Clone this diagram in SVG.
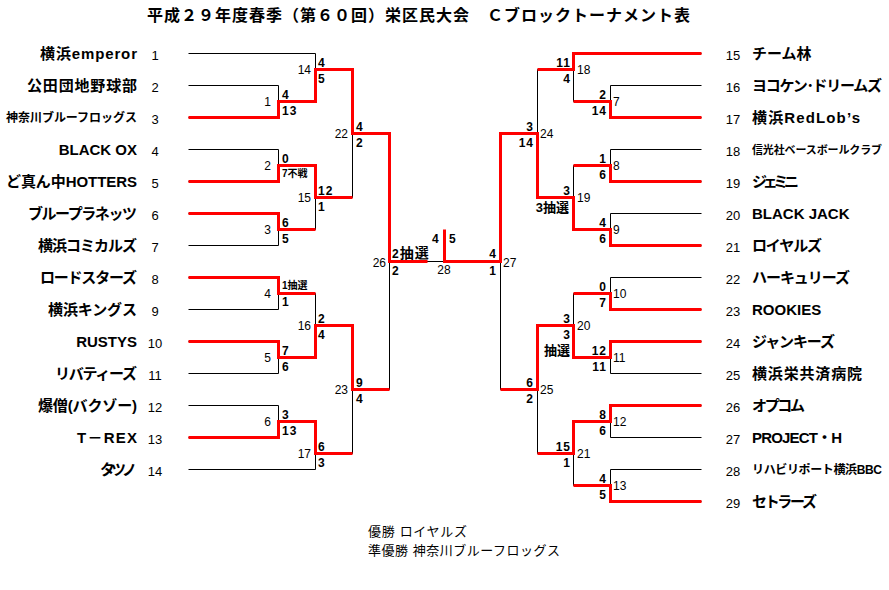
<svg xmlns="http://www.w3.org/2000/svg" width="889" height="590" viewBox="0 0 889 590">
<style>
text{font-family:"Liberation Sans","Noto Sans CJK JP",sans-serif;fill:#000}
.ttl{font-size:16px;font-weight:bold}
.nm{font-size:15px;font-weight:bold}
.nms{font-size:12px;font-weight:bold}
.nmx{font-size:11px;font-weight:bold}
.tn{font-size:13px;text-anchor:middle}
.mn{font-size:12px}
.sc{font-size:12px;font-weight:bold;letter-spacing:1px}
.sm{font-size:10px;font-weight:bold}
.lt{font-size:13px;font-weight:bold}
.L{text-anchor:end}
.R{text-anchor:end}
.ft{font-size:13px}
.blk{fill:none;stroke:#000;stroke-width:1}
.red{fill:none;stroke:#ff0000;stroke-width:3;stroke-linejoin:miter}
</style>
<rect width="889" height="590" fill="#fff"/>
<text class="ttl" x="147" y="21" textLength="543">平成２９年度春季（第６０回）栄区民大会　Ｃブロックトーナメント表</text>

<g id="connectors" transform="translate(0.5,0.5)">
<path class="blk" d="M188 53H315 M188 85H278 M188 117H278 M188 149H278 M188 181H278 M188 213H278 M188 245H278 M188 277H278 M188 309H278 M188 341H278 M188 373H278 M188 405H278 M188 437H278 M188 469H315
M278 85V117 M278 149V181 M278 213V245 M278 277V309 M278 341V373 M278 405V437
M278 101H315 M278 165H315 M278 229H315 M278 293H315 M278 357H315 M278 421H315
M315 53V101 M315 165V229 M315 293V357 M315 421V469
M315 69H352 M315 197H352 M315 325H352 M315 453H352
M352 69V197 M352 325V453 M352 133H389 M352 389H389 M389 133V389 M389 261H500
M701 53H573 M701 85H610 M701 117H610 M701 149H610 M701 181H610 M701 213H610 M701 245H610 M701 277H610 M701 309H610 M701 341H610 M701 373H610 M701 405H610 M701 437H610 M701 469H610 M701 501H610
M610 85V117 M610 149V181 M610 213V245 M610 277V309 M610 341V373 M610 405V437 M610 469V501
M610 101H573 M610 165H573 M610 229H573 M610 293H573 M610 357H573 M610 421H573 M610 485H573
M573 53V101 M573 165V229 M573 293V357 M573 421V485
M573 69H537 M573 197H537 M573 325H537 M573 453H537
M537 69V197 M537 325V453 M537 133H500 M537 389H500 M500 133V389"/>
<polyline class="red" points="188,117 278,117 278,101 315,101 315,69 352,69 352,133 389,133 389,261 427,261"/>
<polyline class="red" points="188,181 278,181 278,165 315,165 315,197 352,197"/>
<polyline class="red" points="188,213 278,213 278,229 315,229"/>
<polyline class="red" points="188,277 278,277 278,293 315,293"/>
<polyline class="red" points="188,341 278,341 278,357 315,357 315,325 352,325 352,389 389,389"/>
<polyline class="red" points="188,437 278,437 278,421 315,421 315,453 352,453"/>
<polyline class="red" points="701,53 573,53 573,69 537,69"/>
<polyline class="red" points="701,117 610,117 610,101 573,101"/>
<polyline class="red" points="701,181 610,181 610,165 573,165"/>
<polyline class="red" points="701,245 610,245 610,229 573,229 573,197 537,197 537,133 500,133 500,261 444,261 444,229"/>
<polyline class="red" points="701,309 610,309 610,293 573,293"/>
<polyline class="red" points="701,341 610,341 610,357 573,357 573,325 537,325 537,389 500,389"/>
<polyline class="red" points="701,405 610,405 610,421 573,421 573,453 537,453"/>
<polyline class="red" points="701,501 610,501 610,485 573,485"/>
</g>

<g id="team1"><text class="nm L" x="137" y="59" textLength="97">横浜emperor</text><text class="tn" x="155" y="60">1</text></g>
<g id="team2"><text class="nm L" x="137" y="91" textLength="110">公田団地野球部</text><text class="tn" x="155" y="92">2</text></g>
<g id="team3"><text class="nms L" x="137" y="122" textLength="131">神奈川ブルーフロッグス</text><text class="tn" x="155" y="124">3</text></g>
<g id="team4"><text class="nm L" x="137" y="155">BLACK OX</text><text class="tn" x="155" y="156">4</text></g>
<g id="team5"><text class="nm L" x="137" y="187" textLength="131">ど真ん中HOTTERS</text><text class="tn" x="155" y="188">5</text></g>
<g id="team6"><text class="nm L" x="137" y="219" textLength="109">ブループラネッツ</text><text class="tn" x="155" y="220">6</text></g>
<g id="team7"><text class="nm L" x="137" y="251" textLength="99">横浜コミカルズ</text><text class="tn" x="155" y="252">7</text></g>
<g id="team8"><text class="nm L" x="137" y="283" textLength="97">ロードスターズ</text><text class="tn" x="155" y="284">8</text></g>
<g id="team9"><text class="nm L" x="137" y="315" textLength="89">横浜キングス</text><text class="tn" x="155" y="316">9</text></g>
<g id="team10"><text class="nm L" x="137" y="347">RUSTYS</text><text class="tn" x="155" y="348">10</text></g>
<g id="team11"><text class="nm L" x="137" y="379" textLength="82">リバティーズ</text><text class="tn" x="155" y="380">11</text></g>
<g id="team12"><text class="nm L" x="137" y="411" textLength="99">爆僧(バクゾー)</text><text class="tn" x="155" y="412">12</text></g>
<g id="team13"><text class="nm L" x="137" y="443" textLength="60">T－REX</text><text class="tn" x="155" y="444">13</text></g>
<g id="team14"><text class="nm L" x="137" y="475" textLength="37">タツノ</text><text class="tn" x="155" y="476">14</text></g>

<g id="team15"><text class="tn" x="733" y="60">15</text><text class="nm" x="752" y="59">チーム林</text></g>
<g id="team16"><text class="tn" x="733" y="92">16</text><text class="nm" x="752" y="91" textLength="130">ヨコケン･ドリームズ</text></g>
<g id="team17"><text class="tn" x="733" y="124">17</text><text class="nm" x="752" y="123" textLength="108">横浜RedLob’s</text></g>
<g id="team18"><text class="tn" x="733" y="156">18</text><text class="nmx" x="752" y="154" textLength="130">信光社ベースボールクラブ</text></g>
<g id="team19"><text class="tn" x="733" y="188">19</text><text class="nm" x="752" y="187" textLength="47">ジェミニ</text></g>
<g id="team20"><text class="tn" x="733" y="220">20</text><text class="nm" x="752" y="219">BLACK JACK</text></g>
<g id="team21"><text class="tn" x="733" y="252">21</text><text class="nm" x="752" y="251" textLength="70">ロイヤルズ</text></g>
<g id="team22"><text class="tn" x="733" y="284">22</text><text class="nm" x="752" y="283" textLength="98">ハーキュリーズ</text></g>
<g id="team23"><text class="tn" x="733" y="316">23</text><text class="nm" x="752" y="315">ROOKIES</text></g>
<g id="team24"><text class="tn" x="733" y="348">24</text><text class="nm" x="752" y="347" textLength="83">ジャンキーズ</text></g>
<g id="team25"><text class="tn" x="733" y="380">25</text><text class="nm" x="752" y="379" textLength="110">横浜栄共済病院</text></g>
<g id="team26"><text class="tn" x="733" y="412">26</text><text class="nm" x="752" y="411" textLength="53">オプコム</text></g>
<g id="team27"><text class="tn" x="733" y="444">27</text><text class="nm" x="752" y="443" textLength="90">PROJECT・H</text></g>
<g id="team28"><text class="tn" x="733" y="476">28</text><text class="nms" x="752" y="474" textLength="130">リハビリポート横浜BBC</text></g>
<g id="team29"><text class="tn" x="733" y="508">29</text><text class="nm" x="752" y="507" textLength="65">セトラーズ</text></g>

<g id="m1"><text class="mn L" x="271" y="106">1</text><text class="sc" x="282" y="99">4</text><text class="sc" x="282" y="115">13</text></g>
<g id="m2"><text class="mn L" x="271" y="170">2</text><text class="sc" x="282" y="163">0</text><text class="sm" x="282" y="177">7不戦</text></g>
<g id="m3"><text class="mn L" x="271" y="234">3</text><text class="sc" x="282" y="227">6</text><text class="sc" x="282" y="243">5</text></g>
<g id="m4"><text class="mn L" x="271" y="298">4</text><text class="sm" x="282" y="289">1抽選</text><text class="sc" x="282" y="306">1</text></g>
<g id="m5"><text class="mn L" x="271" y="362">5</text><text class="sc" x="282" y="355">7</text><text class="sc" x="282" y="371">6</text></g>
<g id="m6"><text class="mn L" x="271" y="426">6</text><text class="sc" x="282" y="419">3</text><text class="sc" x="282" y="435">13</text></g>
<g id="m14"><text class="mn L" x="311" y="74">14</text><text class="sc" x="318" y="67">4</text><text class="sc" x="318" y="83">5</text></g>
<g id="m15"><text class="mn L" x="311" y="202">15</text><text class="sc" x="318" y="195">12</text><text class="sc" x="318" y="211">1</text></g>
<g id="m16"><text class="mn L" x="311" y="330">16</text><text class="sc" x="318" y="323">2</text><text class="sc" x="318" y="339">4</text></g>
<g id="m17"><text class="mn L" x="311" y="458">17</text><text class="sc" x="318" y="451">6</text><text class="sc" x="318" y="467">3</text></g>
<g id="m22"><text class="mn L" x="348" y="138">22</text><text class="sc" x="356" y="131">4</text><text class="sc" x="356" y="147">2</text></g>
<g id="m23"><text class="mn L" x="348" y="394">23</text><text class="sc" x="356" y="387">9</text><text class="sc" x="356" y="403">4</text></g>
<g id="m26"><text class="mn L" x="386" y="267">26</text><text class="sc" x="392" y="258">2<tspan class="lt" style="font-size:14px">抽選</tspan></text><text class="sc" x="392" y="275">2</text></g>
<g id="m28"><text class="sc" x="432" y="243">4</text><text class="sc" x="449" y="243">5</text><text class="mn" x="444" y="274" text-anchor="middle">28</text></g>
<g id="m27"><text class="mn" x="503" y="267">27</text><text class="sc R" x="497" y="258">4</text><text class="sc R" x="497" y="275">1</text></g>

<g id="m7"><text class="mn" x="613" y="106">7</text><text class="sc R" x="607" y="99">2</text><text class="sc R" x="607" y="115">14</text></g>
<g id="m8"><text class="mn" x="613" y="170">8</text><text class="sc R" x="607" y="163">1</text><text class="sc R" x="607" y="179">6</text></g>
<g id="m9"><text class="mn" x="613" y="234">9</text><text class="sc R" x="607" y="227">4</text><text class="sc R" x="607" y="243">6</text></g>
<g id="m10"><text class="mn" x="613" y="298">10</text><text class="sc R" x="607" y="291">0</text><text class="sc R" x="607" y="307">7</text></g>
<g id="m11"><text class="mn" x="613" y="362">11</text><text class="sc R" x="607" y="355">12</text><text class="sc R" x="607" y="371">11</text></g>
<g id="m12"><text class="mn" x="613" y="426">12</text><text class="sc R" x="607" y="419">8</text><text class="sc R" x="607" y="435">6</text></g>
<g id="m13"><text class="mn" x="613" y="490">13</text><text class="sc R" x="607" y="483">4</text><text class="sc R" x="607" y="499">5</text></g>
<g id="m18"><text class="mn" x="577" y="74">18</text><text class="sc R" x="571" y="67">11</text><text class="sc R" x="571" y="83">4</text></g>
<g id="m19"><text class="mn" x="577" y="202">19</text><text class="sc R" x="571" y="195">3</text><text class="lt R" x="569" y="212">3抽選</text></g>
<g id="m20"><text class="mn" x="577" y="330">20</text><text class="sc R" x="571" y="323">3</text><text class="sc R" x="571" y="339">3</text><text class="lt R" x="570" y="355">抽選</text></g>
<g id="m21"><text class="mn" x="577" y="458">21</text><text class="sc R" x="571" y="451">15</text><text class="sc R" x="571" y="467">1</text></g>
<g id="m24"><text class="mn" x="540" y="138">24</text><text class="sc R" x="534" y="131">3</text><text class="sc R" x="534" y="147">14</text></g>
<g id="m25"><text class="mn" x="540" y="394">25</text><text class="sc R" x="534" y="387">6</text><text class="sc R" x="534" y="403">2</text></g>

<g id="result">
<text class="ft" x="368" y="536" textLength="99">優勝 ロイヤルズ</text>
<text class="ft" x="368" y="555" textLength="192">準優勝 神奈川ブルーフロッグス</text>
</g>
</svg>
